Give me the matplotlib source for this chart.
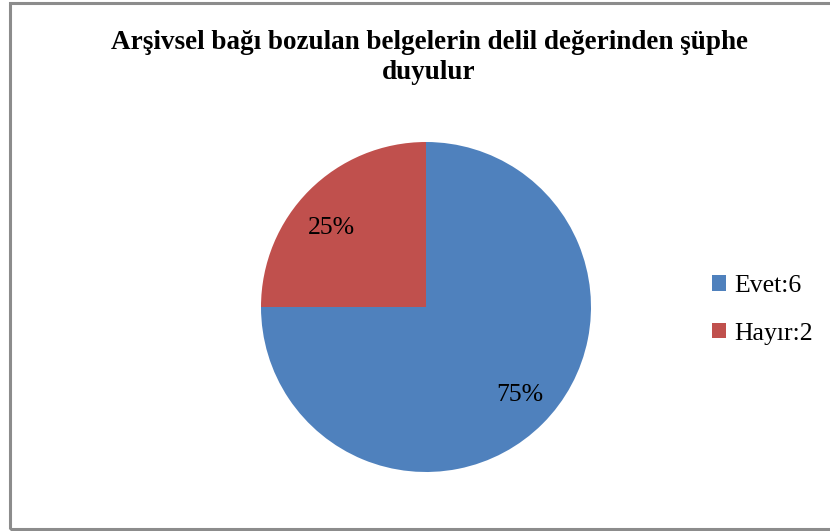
import matplotlib as mpl
mpl.use('Agg')
import matplotlib.pyplot as plt
from matplotlib.patches import Rectangle, Patch
import numpy as np

plt.rcParams['font.family'] = ['Liberation Serif', 'DejaVu Serif']

labels = ['Evet:6', 'Hayır:2']
values = [6, 2]
colors = ['#4F81BD', '#C0504D']
title = 'Arşivsel bağı bozulan belgelerin delil değerinden şüphe\nduyulur'

fig = plt.figure(figsize=(8.3, 5.31), dpi=100)

# chart frame (right side runs off the image)
fig.patches.append(Rectangle((10 / 830, 2 / 531), 1.1, 526 / 531, transform=fig.transFigure,
                             fill=False, edgecolor='#8c8c8c', linewidth=2.2, zorder=0))

# pie area: centre (426, 307) px, radius 165 px
r = 165
ax = fig.add_axes([(426 - r) / 830, (531 - 307 - r) / 531, 2 * r / 830, 2 * r / 531])
wedges, texts = ax.pie(values, colors=colors, startangle=90, counterclock=False,
                       wedgeprops=dict(linewidth=0))
ax.set_aspect('auto')
ax.set_xlim(-1, 1)
ax.set_ylim(-1, 1)

# percentage labels, nudged a little counter-clockwise from the wedge middle
total = sum(values)
for w, v in zip(wedges, values):
    ang = np.deg2rad((w.theta1 + w.theta2) / 2 + 3.5)
    ax.text(0.762 * np.cos(ang), 0.762 * np.sin(ang) - 0.027, '{:.0f}%'.format(100 * v / total),
            ha='center', va='center', fontsize=18.5)

fig.text(429 / 830, 1 - 57.5 / 531, title, ha='center', va='center', fontsize=19.5,
         fontweight='bold', linespacing=1.25)

handles = [Patch(facecolor=c, edgecolor='none') for c in colors]
fig.legend(handles, labels, loc='center left', bbox_to_anchor=(689 / 830, 1 - 310 / 531),
           frameon=False, fontsize=18.5, handlelength=0.55, handleheight=0.55,
           handletextpad=0.3, labelspacing=1.0)

fig.savefig('out.png', dpi=100)
